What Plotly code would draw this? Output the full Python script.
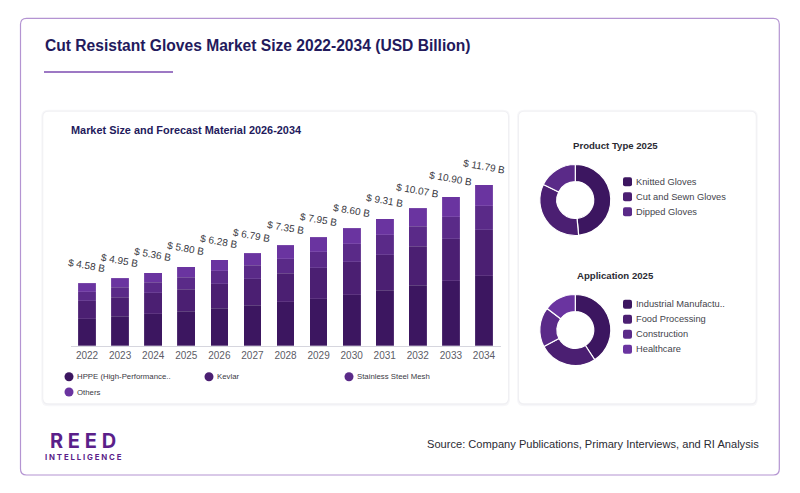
import plotly.graph_objects as go

W, H = 800, 493

# ---------------- data ----------------
years = ["2022", "2023", "2024", "2025", "2026", "2027", "2028",
         "2029", "2030", "2031", "2032", "2033", "2034"]
totals = [4.58, 4.95, 5.36, 5.80, 6.28, 6.79, 7.35, 7.95, 8.60, 9.31, 10.07, 10.90, 11.79]
hppe = [1.98, 2.15, 2.34, 2.52, 2.73, 2.97, 3.22, 3.45, 3.74, 4.05, 4.42, 4.76, 5.13]
kevlar = [1.31, 1.41, 1.53, 1.63, 1.80, 1.92, 2.07, 2.26, 2.41, 2.63, 2.85, 3.09, 3.35]
steel = [0.68, 0.73, 0.78, 0.88, 0.95, 1.02, 1.09, 1.19, 1.31, 1.44, 1.48, 1.61, 1.78]
others = [0.61, 0.66, 0.71, 0.77, 0.80, 0.88, 0.97, 1.05, 1.14, 1.19, 1.32, 1.44, 1.53]
material_names = ["HPPE (High-Performance..", "Kevlar", "Stainless Steel Mesh", "Others"]

product_types = ["Knitted Gloves", "Cut and Sewn Gloves", "Dipped Gloves"]
product_share = [48.5, 33.7, 17.8]
applications = ["Industrial Manufactu..", "Food Processing", "Construction", "Healthcare"]
application_share = [40.8, 26.5, 18.1, 14.6]

colors = ["#3c1660", "#4b1f72", "#5a2a88", "#6a34a0"]

# ---------------- helpers ----------------
def px(x):
    return x / W

def py(y):
    return 1 - y / H

def rrect(x0, y0, x1, y1, r):
    X0, X1 = px(x0), px(x1)
    Y0, Y1 = py(y0), py(y1)
    rx, ry = r / W, r / H
    return (f"M {X0+rx:.6f},{Y0:.6f} L {X1-rx:.6f},{Y0:.6f} Q {X1:.6f},{Y0:.6f} {X1:.6f},{Y0-ry:.6f} "
            f"L {X1:.6f},{Y1+ry:.6f} Q {X1:.6f},{Y1:.6f} {X1-rx:.6f},{Y1:.6f} L {X0+rx:.6f},{Y1:.6f} "
            f"Q {X0:.6f},{Y1:.6f} {X0:.6f},{Y1+ry:.6f} L {X0:.6f},{Y0-ry:.6f} Q {X0:.6f},{Y0:.6f} {X0+rx:.6f},{Y0:.6f} Z")

FONT = "Liberation Sans, Arial, sans-serif"

fig = go.Figure()

series = [hppe, kevlar, steel, others]
for name, vals, c in zip(material_names, series, colors):
    fig.add_trace(go.Bar(
        x=years, y=vals, name=name,
        marker=dict(color=c, line=dict(color="rgba(255,255,255,0.2)", width=0.5)),
        showlegend=False, hoverinfo="skip"))

# pies
def pie_domain(cx, cy, r):
    return dict(x=[px(cx - r), px(cx + r)], y=[py(cy + r), py(cy - r)])

fig.add_trace(go.Pie(labels=product_types, values=product_share, hole=0.52, sort=False,
                     direction="clockwise", rotation=0, textinfo="none", hoverinfo="skip",
                     marker=dict(colors=colors[:3], line=dict(color="white", width=1.2)),
                     domain=pie_domain(575.3, 200, 35.5), showlegend=False))
fig.add_trace(go.Pie(labels=applications, values=application_share, hole=0.52, sort=False,
                     direction="clockwise", rotation=0, textinfo="none", hoverinfo="skip",
                     marker=dict(colors=colors, line=dict(color="white", width=1.2)),
                     domain=pie_domain(575.3, 330, 35.5), showlegend=False))

# bar-chart geometry
base_y = 345.7
top_y = 150.0
px_per_b = 13.65
ymax = (base_y - top_y) / px_per_b

shapes = []
annotations = []

# value labels above bars (x given as category index)
for i, t in enumerate(totals):
    annotations.append(dict(x=i, y=t, xref="x", yref="y", text=f"$ {t:.2f} B",
                            showarrow=False, textangle=10, yshift=18,
                            font=dict(family=FONT, size=10, color="#3a3a44")))

# outer card
shapes.append(dict(type="path", path=rrect(20.5, 18.3, 779.3, 475, 6), xref="paper", yref="paper",
                   line=dict(color="#b494d2", width=1.2), fillcolor="rgba(0,0,0,0)", layer="below"))
# panel shadows + panels
for (x0, y0, x1, y1) in [(43.3, 111.7, 508, 403.3), (519, 111.7, 755.7, 403.3)]:
    shapes.append(dict(type="path", path=rrect(x0 - 2, y0 - 2, x1 + 2, y1 + 3, 7), xref="paper", yref="paper",
                       line=dict(width=0), fillcolor="#f7f7f9", layer="below"))
    shapes.append(dict(type="path", path=rrect(x0 - 1, y0 - 1, x1 + 1, y1 + 1.5, 6), xref="paper", yref="paper",
                       line=dict(width=0), fillcolor="#f0f0f3", layer="below"))
    shapes.append(dict(type="path", path=rrect(x0, y0, x1, y1, 5), xref="paper", yref="paper",
                       line=dict(width=0), fillcolor="white", layer="below"))

# title underline
shapes.append(dict(type="line", xref="paper", yref="paper", x0=px(44), x1=px(173), y0=py(72), y1=py(72),
                   line=dict(color="#7c4bb0", width=1.5)))

annotations.append(dict(x=px(42.5), y=py(46), xref="paper", yref="paper", xanchor="left", yanchor="middle",
                        text="<b>Cut Resistant Gloves Market Size 2022-2034 (USD Billion)</b>", showarrow=False,
                        font=dict(family=FONT, size=15.6, color="#231a5c")))
annotations.append(dict(x=px(68.5), y=py(130), xref="paper", yref="paper", xanchor="left", yanchor="middle",
                        text="<b>Market Size and Forecast Material 2026-2034</b>", showarrow=False,
                        font=dict(family=FONT, size=10.9, color="#231a5c")))
annotations.append(dict(x=px(615), y=py(145.7), xref="paper", yref="paper", xanchor="center", yanchor="middle",
                        text="<b>Product Type 2025</b>", showarrow=False,
                        font=dict(family=FONT, size=9.6, color="#2b2b33")))
annotations.append(dict(x=px(615), y=py(275), xref="paper", yref="paper", xanchor="center", yanchor="middle",
                        text="<b>Application 2025</b>", showarrow=False,
                        font=dict(family=FONT, size=9.6, color="#2b2b33")))

# bar legend (circles)
leg_pos = [(69, 376.7), (209, 376.7), (349, 376.7), (69, 392)]
for (lx, ly), name, c in zip(leg_pos, material_names, colors):
    shapes.append(dict(type="circle", xref="paper", yref="paper",
                       x0=px(lx - 4.5), x1=px(lx + 4.5), y0=py(ly + 4.5), y1=py(ly - 4.5),
                       fillcolor=c, line=dict(width=0)))
    annotations.append(dict(x=px(lx + 5.5), y=py(ly), xref="paper", yref="paper", xanchor="left", yanchor="middle",
                            text=name, showarrow=False,
                            font=dict(family=FONT, size=7.8, color="#3a3a44")))

# pie legends (rounded squares)
def pie_legend(names, y_start):
    for i, (name, c) in enumerate(zip(names, colors)):
        ly = y_start + i * 15
        shapes.append(dict(type="path", path=rrect(623, ly - 4.5, 632, ly + 4.5, 2), xref="paper", yref="paper",
                           fillcolor=c, line=dict(width=0)))
        annotations.append(dict(x=px(633.5), y=py(ly), xref="paper", yref="paper", xanchor="left", yanchor="middle",
                                text=name, showarrow=False,
                                font=dict(family=FONT, size=9.3, color="#44444c")))

pie_legend(product_types, 181.7)
pie_legend(applications, 304.3)

# logo + source
annotations.append(dict(x=px(82.5), y=py(441), xref="paper", yref="paper", xanchor="center", yanchor="middle",
                        text="<b>R E E D</b>", showarrow=False,
                        font=dict(family="Inter, Noto Sans, sans-serif", size=20, color="#5b1f8a")))
annotations.append(dict(x=px(83), y=py(457), xref="paper", yref="paper", xanchor="center", yanchor="middle",
                        text="<b>I N T E L L I G E N C E</b>", showarrow=False,
                        font=dict(family="Inter, Noto Sans, sans-serif", size=7.8, color="#5b1f8a")))
annotations.append(dict(x=px(761), y=py(444), xref="paper", yref="paper", xanchor="right", yanchor="middle",
                        text="Source: Company Publications, Primary Interviews, and RI Analysis", showarrow=False,
                        font=dict(family=FONT, size=11.1, color="#2b2b33")))

fig.update_layout(
    width=W, height=H, margin=dict(l=0, r=0, t=0, b=0), autosize=False,
    paper_bgcolor="white", plot_bgcolor="rgba(0,0,0,0)",
    barmode="stack", bargap=0.465,
    xaxis=dict(domain=[px(70.5), px(500.5)], anchor="y", type="category",
               range=[-0.5, len(years) - 0.5], autorange=False, automargin=False,
               showgrid=False, showline=True, linecolor="#d6d6de", linewidth=1,
               ticks="", tickfont=dict(family=FONT, size=10, color="#5c5c66"),
               fixedrange=True),
    yaxis=dict(domain=[py(base_y), py(top_y)], range=[0, ymax], autorange=False, automargin=False,
               visible=False, showgrid=False, zeroline=False, fixedrange=True),
    shapes=shapes, annotations=annotations, showlegend=False,
)

fig.write_html("out.html", config={"displayModeBar": False},
               post_script="document.body.style.margin='0px';document.body.style.padding='0px';")
